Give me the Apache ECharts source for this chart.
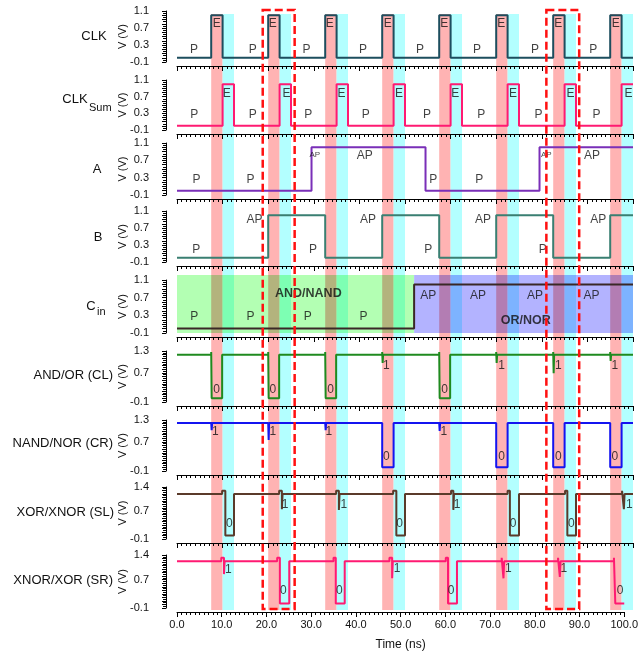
<!DOCTYPE html>
<html><head><meta charset="utf-8">
<script src="https://cdn.jsdelivr.net/npm/echarts@6/dist/echarts.min.js"></script>
<style>html,body{margin:0;padding:0;background:#fff}#c{width:641px;height:654px}</style>
</head><body><div id="c"></div>
<script>
// ---------- data ----------
const xTicks = ['0.0','10.0','20.0','30.0','40.0','50.0','60.0','70.0','80.0','90.0','100.0'];
const ticksIn  = ['-0.1','0.3','0.7','1.1'];
const ticksCL  = ['-0.1','0.7','1.3'];
const ticksSL  = ['-0.1','0.7','1.4'];

const pinkBands = [[7.5,10],[20,22.5],[32.5,35],[45,47.5],[57.5,60],[70,72.5],[82.5,85],[95,97.5]];
const cyanBands = [[10,12.5],[22.5,25],[35,37.5],[47.5,50],[60,62.5],[72.5,75],[85,87.5],[97.5,100]];
const cinSwitch = 52;
const dashBoxes = [[18.8,25.8],[81,88.2]];

const clk = [[0,0],[7.5,0],[7.5,1],[10,1],[10,0],[20,0],[20,1],[22.5,1],[22.5,0],[32.5,0],[32.5,1],[35,1],[35,0],[45,0],[45,1],[47.5,1],[47.5,0],[57.5,0],[57.5,1],[60,1],[60,0],[70,0],[70,1],[72.5,1],[72.5,0],[82.5,0],[82.5,1],[85,1],[85,0],[95,0],[95,1],[97.5,1],[97.5,0],[100,0]];
const clkSum = [[0,0],[10,0],[10,1],[12.5,1],[12.5,0],[22.5,0],[22.5,1],[25,1],[25,0],[35,0],[35,1],[37.5,1],[37.5,0],[47.5,0],[47.5,1],[50,1],[50,0],[60,0],[60,1],[62.5,1],[62.5,0],[72.5,0],[72.5,1],[75,1],[75,0],[85,0],[85,1],[87.5,1],[87.5,0],[97.5,0],[97.5,1],[100,1]];
const sigA = [[0,0],[29.5,0],[29.5,1],[54.5,1],[54.5,0],[79.5,0],[79.5,1],[100,1]];
const sigB = [[0,0],[20,0],[20,1],[32.5,1],[32.5,0],[45,0],[45,1],[57.5,1],[57.5,0],[70,0],[70,1],[82.5,1],[82.5,0],[95,0],[95,1],[100,1]];
const sigCin = [[0,0],[52,0],[52,1],[100,1]];
const andOr = [[0,1.2],[7.5,1.2],[7.5,1.27],[7.6,1.27],[7.6,0],[9.9,0],[9.9,1.2],
 [20,1.2],[20,1.27],[20.1,1.27],[20.1,0],[22.4,0],[22.4,1.2],
 [32.5,1.2],[32.5,1.27],[32.6,1.27],[32.6,0],[34.9,0],[34.9,1.2],
 [45,1.2],[45,1.27],[45.1,1.27],[45.1,0.97],[45.2,0.97],[45.2,1.2],
 [57.5,1.2],[57.5,1.27],[57.6,1.27],[57.6,0],[59.9,0],[59.9,1.2],
 [70,1.2],[70,1.27],[70.1,1.27],[70.1,0.97],[70.2,0.97],[70.2,1.2],
 [82.5,1.2],[82.5,1.27],[82.6,1.27],[82.6,0.69],[82.7,0.69],[82.7,1.2],
 [95,1.2],[95,1.27],[95.1,1.27],[95.1,1.03],[95.2,1.03],[95.2,1.2],[100,1.2]];
const nandNor = [[0,1.22],[7.5,1.22],[7.5,1.27],[7.6,1.27],[7.6,1.02],[7.7,1.02],[7.7,1.22],
 [20,1.22],[20,1.27],[20.1,1.27],[20.1,0.75],[20.2,0.75],[20.2,1.22],
 [32.5,1.22],[32.5,1.27],[32.6,1.27],[32.6,1.02],[32.7,1.02],[32.7,1.22],
 [45,1.22],[45,0],[47.5,0],[47.5,1.22],
 [57.5,1.22],[57.5,1.27],[57.6,1.27],[57.6,1.0],[57.7,1.0],[57.7,1.22],
 [70,1.22],[70,0],[72.5,0],[72.5,1.22],
 [82.5,1.22],[82.5,0],[85,0],[85,1.22],
 [95,1.22],[95,0],[97.5,0],[97.5,1.22],[100,1.22]];
const xorXnor = [[0,1.2],[9.9,1.2],[9.9,1.29],[10.6,1.29],[10.6,0],[12.5,0],[12.5,1.2],
 [22.4,1.2],[22.4,1.29],[23.0,1.29],[23.0,0.76],[23.15,0.76],[23.15,1.2],[25.1,1.2],[25.1,1.25],[25.2,1.25],[25.2,1.2],
 [34.9,1.2],[34.9,1.29],[35.5,1.29],[35.5,0.74],[35.65,0.74],[35.65,1.2],[37.5,1.2],[37.5,1.25],[37.6,1.25],[37.6,1.2],
 [47.4,1.2],[47.4,1.29],[48.1,1.29],[48.1,0],[50,0],[50,1.2],
 [60.1,1.2],[60.1,1.29],[60.6,1.29],[60.6,0.74],[60.75,0.74],[60.75,1.2],[62.6,1.2],[62.6,1.25],[62.7,1.25],[62.7,1.2],
 [72.5,1.2],[72.5,1.29],[73,1.29],[73,0],[75,0],[75,1.2],
 [85.1,1.2],[85.1,1.29],[85.6,1.29],[85.6,0],[87.5,0],[87.5,1.2],
 [97.6,1.2],[97.6,1.29],[98,1.29],[98,0.76],[98.15,0.76],[98.15,1.2],[100,1.2]];
const xnorXor = [[0,1.22],[9.9,1.22],[9.9,1.32],[10.5,1.32],[10.5,0.86],[10.65,0.86],[10.65,1.22],[12.5,1.22],[12.5,1.27],[12.6,1.27],[12.6,1.22],
 [22.4,1.22],[22.4,1.32],[23.0,1.32],[23.0,0.03],[25.1,0.03],[25.1,1.22],
 [35,1.22],[35,1.32],[35.5,1.32],[35.5,0.03],[37.5,0.03],[37.5,1.22],
 [47.5,1.22],[47.5,1.32],[48.1,1.32],[48.1,0.74],[48.25,0.74],[48.25,1.22],[50,1.22],[50,1.27],[50.1,1.27],[50.1,1.22],
 [60.1,1.22],[60.1,1.32],[60.6,1.32],[60.6,0.03],[62.6,0.03],[62.6,1.22],
 [72.6,1.22],[72.6,1.32],[73,1.32],[73,0.74],[73.15,0.74],[73.15,1.22],[75,1.22],[75,1.27],[75.1,1.27],[75.1,1.22],
 [85.2,1.22],[85.2,1.32],[85.6,1.32],[85.6,0.78],[85.75,0.78],[85.75,1.22],[87.5,1.22],[87.5,1.27],[87.6,1.27],[87.6,1.22],
 [97.7,1.22],[97.7,1.32],[98,1.32],[98,0.03],[100,0.03]];

// text annotations: [t, V, text, style]
const lblClk = [[3.75,0.2,'P'],[16.6,0.2,'P'],[28.4,0.2,'P'],[40.8,0.2,'P'],[53.3,0.2,'P'],[65.8,0.2,'P'],[78.5,0.2,'P'],[91.3,0.2,'P'],
 [8.7,0.81,'E'],[21,0.81,'E'],[33.5,0.81,'E'],[46.2,0.81,'E'],[58.6,0.81,'E'],[71.1,0.81,'E'],[83.6,0.81,'E'],[96.2,0.81,'E']];
const lblSum = [[3.8,0.26,'P'],[16.6,0.26,'P'],[28.8,0.26,'P'],[41.4,0.26,'P'],[54.8,0.26,'P'],[66.7,0.26,'P'],[79.3,0.26,'P'],[92,0.26,'P'],
 [10.9,0.76,'E'],[24,0.76,'E'],[36.1,0.76,'E'],[48.7,0.76,'E'],[61,0.76,'E'],[73.7,0.76,'E'],[86.3,0.76,'E'],[99,0.76,'E']];
const lblA = [[4.3,0.25,'P'],[16.1,0.25,'P'],[30.2,0.82,'AP','s'],[41.2,0.8,'AP'],[56.2,0.25,'P'],[66.3,0.25,'P'],[81,0.82,'AP','s'],[91,0.8,'AP']];
const lblB = [[4.2,0.2,'P'],[17,0.9,'AP'],[29.8,0.2,'P'],[41.9,0.9,'AP'],[55.1,0.2,'P'],[67.1,0.9,'AP'],[80.2,0.2,'P'],[92.4,0.9,'AP']];
const lblCin = [[3.8,0.28,'P'],[16.1,0.28,'P'],[28.7,0.28,'P'],[40.9,0.28,'P'],[55.1,0.74,'AP'],[66,0.74,'AP'],[78.5,0.74,'AP'],[90.9,0.74,'AP'],
 [28.8,0.8,'AND/NAND','b'],[76.5,0.19,'OR/NOR','b']];
const lblCL = [[8.7,0.25,'0'],[21,0.25,'0'],[33.7,0.25,'0'],[58.7,0.25,'0'],[45.9,0.9,'1'],[71.2,0.9,'1'],[83.6,0.9,'1'],[96,0.9,'1']];
const lblCR = [[8.4,0.98,'1'],[21,0.98,'1'],[33.3,0.98,'1'],[58.5,0.98,'1'],[45.9,0.29,'0'],[71.2,0.29,'0'],[83.6,0.29,'0'],[96,0.29,'0']];
const lblSL = [[11.5,0.35,'0'],[23.7,0.88,'1'],[36.6,0.88,'1'],[48.8,0.35,'0'],[61.4,0.88,'1'],[73.7,0.35,'0'],[86.5,0.35,'0'],[99.2,0.88,'1']];
const lblSR = [[11.5,0.98,'1'],[23.8,0.39,'0'],[36.3,0.39,'0'],[49.2,1.0,'1'],[61.3,0.39,'0'],[74.1,1.0,'1'],[86.5,1.0,'1'],[99.1,0.39,'0']];

// ---------- layout / style ----------
const FONT = 'Liberation Sans, Arial, sans-serif';
const L = 177, R = 8;
const panels = [
 {data: clk,     color:'#1d4e5e', top:11,  bot:62,  max:1.1, ticks:ticksIn, lbl:lblClk},
 {data: clkSum,  color:'#ff1a72', top:80,  bot:130, max:1.1, ticks:ticksIn, lbl:lblSum},
 {data: sigA,    color:'#7a2fb8', top:143, bot:195, max:1.1, ticks:ticksIn, lbl:lblA},
 {data: sigB,    color:'#3a7f72', top:211, bot:262, max:1.1, ticks:ticksIn, lbl:lblB},
 {data: sigCin,  color:'#3a2826', top:280, bot:333, max:1.1, ticks:ticksIn, lbl:lblCin},
 {data: andOr,   color:'#1f8a1f', top:351, bot:402, max:1.3, ticks:ticksCL, lbl:lblCL},
 {data: nandNor, color:'#1414f0', top:420, bot:471, max:1.3, ticks:ticksCL, lbl:lblCR},
 {data: xorXnor, color:'#5a3a2a', top:487, bot:539, max:1.4, ticks:ticksSL, lbl:lblSL},
 {data: xnorXor, color:'#ff1a72', top:555, bot:608, max:1.4, ticks:ticksSL, lbl:lblSR}
];
const PINK = '#ffb3b3', CYAN = '#b3ffff';
const cinPalette = ['#b3ffb3','#b3b3ff','#b3b37d','#7dffb3','#b37db3','#7db3ff'];

const grids = [], xAxes = [], yAxes = [], series = [];
panels.forEach((p, i) => {
  const last = i === panels.length - 1;
  grids.push({left:L, right:R, top:p.top, height:p.bot - p.top});
  xAxes.push({type:'value', gridIndex:i, min:0, max:100, interval:10, offset:4, z:5,
    axisLine:{show:true, onZero:false, lineStyle:{color:'#000', width:1}},
    axisTick:{show:true, length:5, lineStyle:{color:'#000'}},
    minorTick:{show:true, splitNumber:10, length:3, lineStyle:{color:'#000'}},
    splitLine:{show:false}, minorSplitLine:{show:false},
    axisLabel:{show:last, fontSize:11, color:'#111', margin:7, fontFamily:FONT,
      formatter: v => { const s = xTicks.find(t => Math.abs(parseFloat(t) - v) < 1e-6); return s || ''; }},
    name: last ? 'Time (ns)' : '', nameLocation:'middle', nameGap:27, nameMoveOverlap:false,
    nameTextStyle:{fontSize:12, color:'#111', fontFamily:FONT}});
  yAxes.push({type:'value', gridIndex:i, min:-0.1, max:p.max, interval:0.1, offset:11, z:5,
    axisLine:{show:true, onZero:false, lineStyle:{color:'#000', width:1}},
    axisTick:{show:true, length:4, lineStyle:{color:'#000'}},
    minorTick:{show:true, splitNumber:2, length:3, lineStyle:{color:'#000'}},
    splitLine:{show:false}, minorSplitLine:{show:false},
    axisLabel:{fontSize:11, color:'#111', margin:17, fontFamily:FONT, showMinLabel:true, showMaxLabel:true,
      formatter: v => { const s = p.ticks.find(t => Math.abs(parseFloat(t) - v) < 1e-6); return s || ''; }},
    name:'V (V)', nameLocation:'middle', nameGap:38, nameRotate:90, nameMoveOverlap:false,
    nameTextStyle:{fontSize:11, color:'#111', fontFamily:FONT}});
  series.push({type:'line', xAxisIndex:i, yAxisIndex:i, data:p.data, symbol:'none', showSymbol:false,
    lineStyle:{color:p.color, width:2}, z:3, silent:true, clip:false});
  series.push({type:'scatter', xAxisIndex:i, yAxisIndex:i, symbol:'circle', symbolSize:1, z:4, silent:true,
    itemStyle:{color:'rgba(0,0,0,0)'},
    data: p.lbl.map(d => {
      const item = {value:[d[0], d[1], d[2]], label:{}};
      if (d[3] === 's') item.label = {fontSize:8};
      if (d[3] === 'b') item.label = {fontWeight:'bold', fontSize:12.5};
      return item;
    }),
    label:{show:true, position:'inside', formatter: q => q.value[2], fontSize:12, color:'#111', fontFamily:FONT}});
});

// background bands grid
const gB = grids.length;
grids.push({left:L, right:R, top:14, height:596});
xAxes.push({type:'value', gridIndex:gB, min:0, max:100, show:false});
yAxes.push({type:'value', gridIndex:gB, min:0, max:1, show:false});
series.push({type:'custom', xAxisIndex:gB, yAxisIndex:gB, z:1, silent:true,
  data: pinkBands.map(b => [b[0], b[1], 0]).concat(cyanBands.map(b => [b[0], b[1], 1])),
  renderItem: (params, api) => {
    const p0 = api.coord([api.value(0), 1]), p1 = api.coord([api.value(1), 0]);
    return {type:'rect', shape:{x:p0[0], y:p0[1], width:p1[0]-p0[0], height:p1[1]-p0[1]},
      style:{fill: api.value(2) ? CYAN : PINK}};
  }});

// Cin background grid
const gC = grids.length;
grids.push({left:L, right:R, top:275, height:58});
xAxes.push({type:'value', gridIndex:gC, min:0, max:100, show:false});
yAxes.push({type:'value', gridIndex:gC, min:0, max:1, show:false});
const cinData = [[0, cinSwitch, 0], [cinSwitch, 100, 1]]
  .concat(pinkBands.map(b => [b[0], b[1], b[0] < cinSwitch ? 2 : 4]))
  .concat(cyanBands.map(b => [b[0], b[1], b[0] < cinSwitch ? 3 : 5]));
series.push({type:'custom', xAxisIndex:gC, yAxisIndex:gC, z:2, silent:true, data:cinData,
  renderItem: (params, api) => {
    const p0 = api.coord([api.value(0), 1]), p1 = api.coord([api.value(1), 0]);
    return {type:'rect', shape:{x:p0[0], y:p0[1], width:p1[0]-p0[0], height:p1[1]-p0[1]},
      style:{fill: cinPalette[api.value(2)]}};
  }});

// dashed overlay grid
const gD = grids.length;
grids.push({left:L, right:R, top:10, height:599});
xAxes.push({type:'value', gridIndex:gD, min:0, max:100, show:false});
yAxes.push({type:'value', gridIndex:gD, min:0, max:1, show:false});
series.push({type:'custom', xAxisIndex:gD, yAxisIndex:gD, z:10, silent:true, data:dashBoxes,
  renderItem: (params, api) => {
    const p0 = api.coord([api.value(0), 1]), p1 = api.coord([api.value(1), 0]);
    return {type:'rect', shape:{x:p0[0], y:p0[1], width:p1[0]-p0[0], height:p1[1]-p0[1]},
      style:{fill:'none', stroke:'#ff1010', lineWidth:2.5, lineDash:[8,4]}};
  }});

// panel names
const nm = (text, x, y, align, size) => ({type:'text', x, y, z:20,
  style:{text, fill:'#111', font: (size||13) + 'px ' + FONT, textAlign:align||'center', textVerticalAlign:'middle'}});
const graphics = [
  nm('CLK', 94, 36),
  nm('CLK', 75, 99), nm('Sum', 89, 108, 'left', 11),
  nm('A', 97, 169),
  nm('B', 98, 237),
  nm('C', 91, 306), nm('in', 97, 312, 'left', 11),
  nm('AND/OR (CL)', 113, 375, 'right'),
  nm('NAND/NOR (CR)', 113, 443, 'right'),
  nm('XOR/XNOR (SL)', 114, 512, 'right'),
  nm('XNOR/XOR (SR)', 113, 580, 'right')
];

const chart = echarts.init(document.getElementById('c'), null, {renderer:'canvas'});
chart.setOption({
  animation:false,
  backgroundColor:'#fff',
  textStyle:{fontFamily:FONT},
  grid:grids, xAxis:xAxes, yAxis:yAxes, series, graphic:graphics
});
</script></body></html>
